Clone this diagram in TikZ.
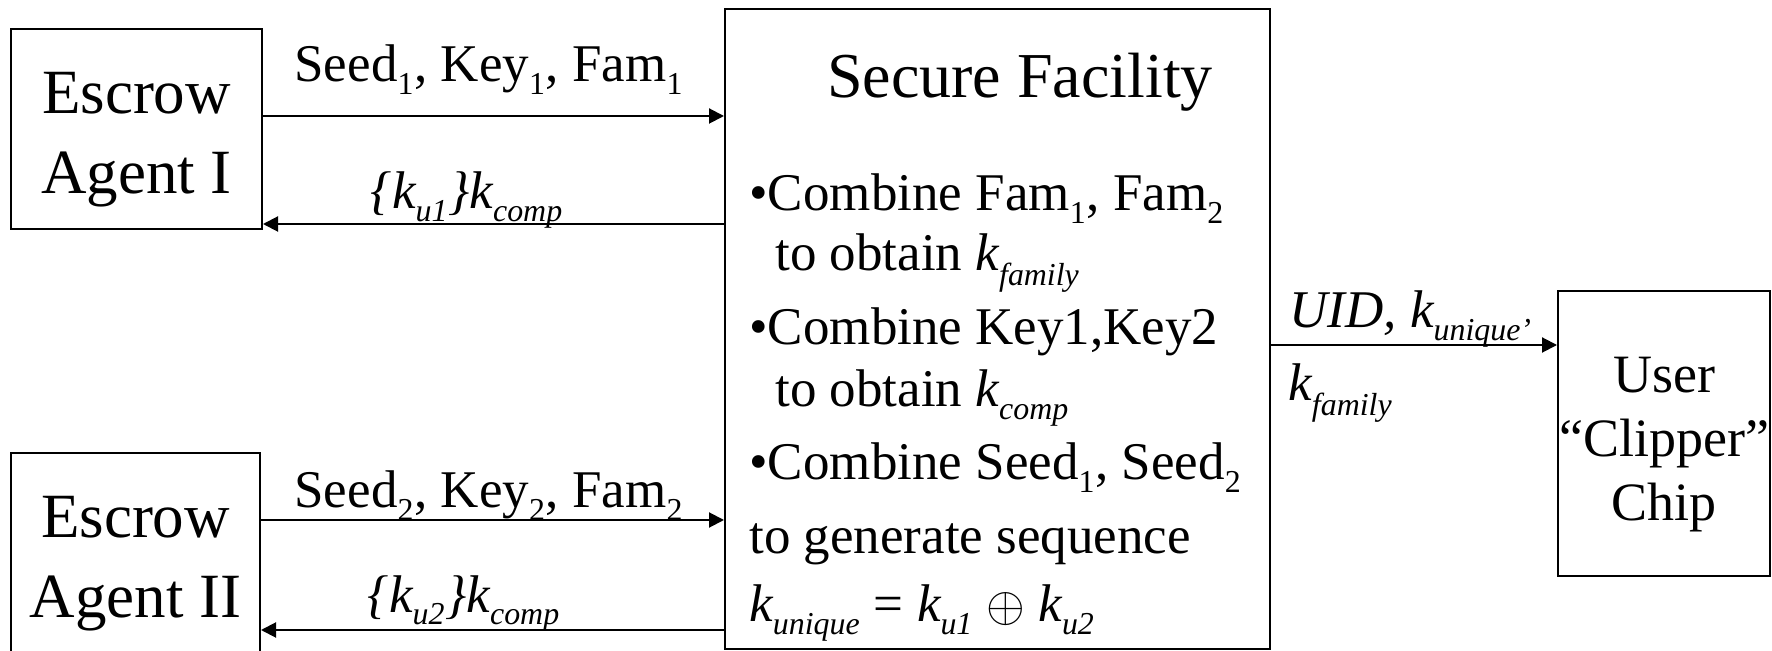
\documentclass[tikz,border=0pt]{standalone}
\usepackage{fontspec}
\setmainfont{Liberation Serif}
\usetikzlibrary{arrows.meta}
\newcommand{\sub}[1]{\raisebox{-0.12em}{\scalebox{0.86}{\textsubscript{#1}}}}

\begin{document}
\begin{tikzpicture}[x=0.5pt,y=-0.5pt,
    box/.style={draw,line width=1pt,inner sep=0pt,align=center},
    flow/.style={line width=1pt,-{Triangle[length=7.5pt,width=7.5pt]}},
    txt/.style={inner sep=0pt,font=\fontsize{26.5}{32}\selectfont}]
  \useasboundingbox (0,0) rectangle (1772,651);
  \clip (0,0) rectangle (1772,651);
  % the four boxes
  \node[box,minimum width=125.5pt,minimum height=100pt] (agentA) at (136.5,129) {};
  \node[box,minimum width=124.5pt,minimum height=105pt] (agentB) at (135.5,558) {};
  \node[box,minimum width=272.5pt,minimum height=320pt] (facility) at (997.5,329) {};
  \node[box,minimum width=106pt,minimum height=142.5pt] (chip) at (1664,433.5) {};
  % box texts
  \node[align=center,font=\fontsize{31.5}{40}\selectfont]
    (agentAtext) at ([yshift=-5.5pt]agentA.center) {Escrow\\Agent I};
  \node[align=center,font=\fontsize{31.5}{40}\selectfont]
    (agentBtext) at ([yshift=-3pt]agentB.center) {Escrow\\Agent II};
  \node[align=center,font=\fontsize{27}{32}\selectfont]
    (chiptext) at ([yshift=-5.5pt]chip.center) {User\\“Clipper”\\Chip};
  % text of the facility
  \node[inner sep=0pt,anchor=base,font=\fontsize{32}{38}\selectfont] (title) at (1020,98) {Secure Facility};
  \node[txt,anchor=base west] (l1) at (749,211) {•Combine Fam\sub{1}, Fam\sub{2}};
  \node[txt,anchor=base west] (l2) at (775,271) {to obtain \textit{k\sub{family}}};
  \node[txt,anchor=base west] (l3) at (749,345) {•Combine Key1,Key2};
  \node[txt,anchor=base west] (l4) at (775,407) {to obtain \textit{k\sub{comp}}};
  \node[txt,anchor=base west] (l5) at (749,480) {•Combine Seed\sub{1}, Seed\sub{2}};
  \node[txt,anchor=base west] (l6) at (749,554) {to generate sequence};
  \node[txt,anchor=base west] (l7) at (749,622)
    {\textit{k\sub{unique}} = \textit{k\sub{u1}} {\fontsize{34}{34}\selectfont$\oplus$} \textit{k\sub{u2}}};
  % connectors
  \coordinate (r1) at (0,116);
  \coordinate (r2) at (0,224);
  \coordinate (r3) at (0,520);
  \coordinate (r4) at (0,630);
  \coordinate (r5) at (0,345);
  \draw[flow] (agentA.east |- r1) -- (facility.west |- r1);
  \draw[flow] (facility.west |- r2) -- (agentA.east |- r2);
  \draw[flow] (agentB.east |- r3) -- (facility.west |- r3);
  \draw[flow] (facility.west |- r4) -- (agentB.east |- r4);
  \draw[flow] (facility.east |- r5) -- (chip.west |- r5);
  % connector labels
  \node[txt,anchor=base] (seedA) at (489,82) {Seed\sub{1}, Key\sub{1}, Fam\sub{1}};
  \node[txt,anchor=base] (retA) at (467,209) {\textit{\{k\sub{u1}\}k\sub{comp}}};
  \node[txt,anchor=base] (seedB) at (489,508) {Seed\sub{2}, Key\sub{2}, Fam\sub{2}};
  \node[txt,anchor=base] (retB) at (464,612) {\textit{\{k\sub{u2}\}k\sub{comp}}};
  \node[txt,anchor=base west] (uid) at (1289,328) {\textit{UID, k\sub{unique’}}};
  \node[txt,anchor=base west] (fam) at (1288,401) {\textit{k\sub{family}}};
\end{tikzpicture}
\end{document}
